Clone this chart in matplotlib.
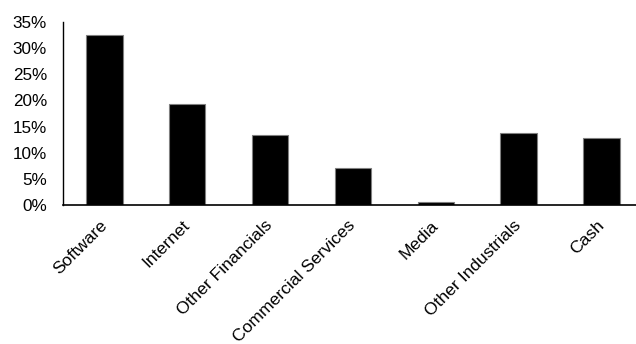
import matplotlib
matplotlib.use("Agg")
import matplotlib.pyplot as plt
from matplotlib.ticker import PercentFormatter
from matplotlib.transforms import ScaledTranslation

categories = ["Software", "Internet", "Other Financials", "Commercial Services",
              "Media", "Other Industrials", "Cash"]
values = [0.326, 0.194, 0.133, 0.070, 0.006, 0.138, 0.129]
yticks = [0, 0.05, 0.10, 0.15, 0.20, 0.25, 0.30, 0.35]

plt.rcParams['font.family'] = ['Liberation Sans', 'DejaVu Sans']

fig = plt.figure(figsize=(6.36, 3.44), dpi=100)
ax = fig.add_axes([0.099, 0.404, 0.912, 0.532])

x = range(len(categories))
ax.bar(x, values, width=0.44, color="black", edgecolor="#7f7f7f", linewidth=0.8, zorder=2)

ax.set_xlim(-0.5, len(categories) - 0.5)
ax.set_ylim(0, 0.35)
ax.set_yticks(yticks)
ax.yaxis.set_major_formatter(PercentFormatter(1.0, decimals=0))
ax.set_xticks(list(x))
ax.set_xticklabels(categories, rotation=45, ha="right", va="center", rotation_mode="anchor")
offset = ScaledTranslation(4 / 100, -1 / 100, fig.dpi_scale_trans)
for lbl in ax.get_xticklabels():
    lbl.set_transform(lbl.get_transform() + offset)

for side in ["top", "right"]:
    ax.spines[side].set_visible(False)
ax.spines["left"].set_color("black")
ax.spines["left"].set_linewidth(1.0)
ax.spines["bottom"].set_color("black")
ax.spines["bottom"].set_linewidth(1.2)

ax.tick_params(axis="y", length=0, pad=11.5, labelsize=12.3, colors="black")
ax.tick_params(axis="x", length=0, pad=13, labelsize=12.6, colors="black")

fig.savefig("out.png", dpi=100)
